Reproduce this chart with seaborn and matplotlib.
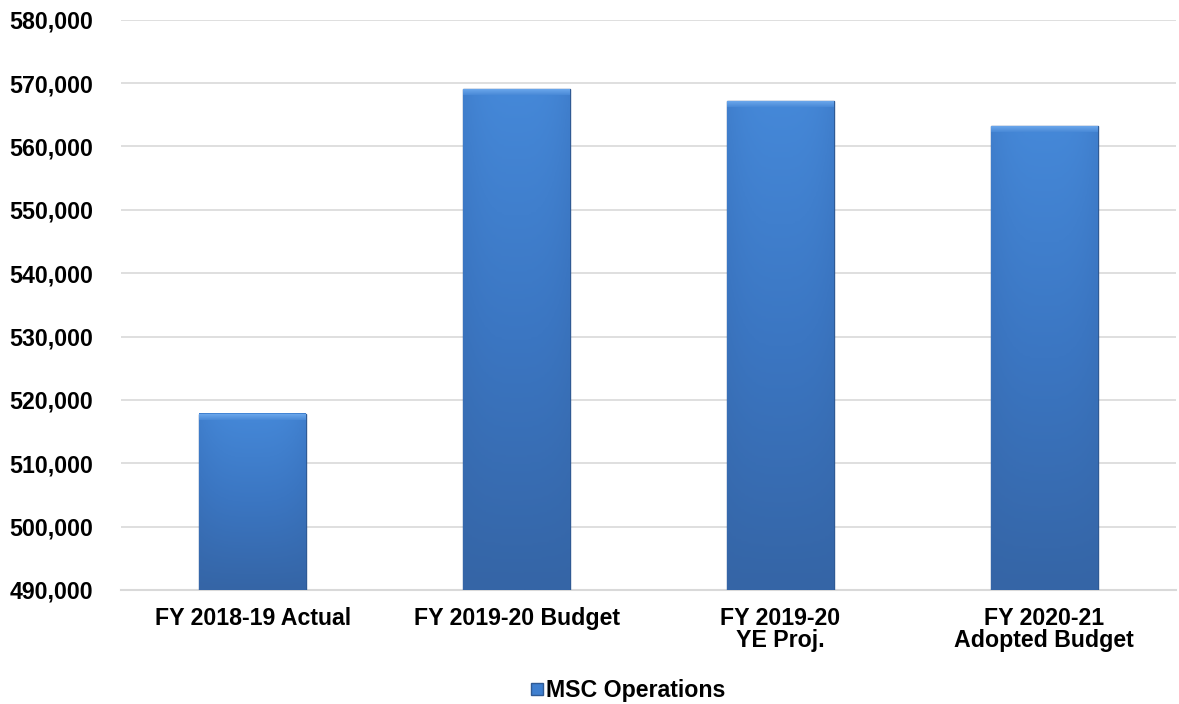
import numpy as np
import pandas as pd
import seaborn as sns
import matplotlib.pyplot as plt
from matplotlib.colors import LinearSegmentedColormap
from matplotlib.lines import Line2D
from matplotlib.ticker import FuncFormatter, MultipleLocator

categories = ["FY 2018-19 Actual", "FY 2019-20 Budget", "FY 2019-20\nYE Proj.",
              "FY 2020-21\nAdopted Budget"]
values = [517800, 569000, 567100, 563150]
series_name = "MSC Operations"

df = pd.DataFrame({"category": categories, "value": values})

sns.set_style("white")
plt.rcParams['font.family'] = ['Liberation Sans', 'DejaVu Sans']
plt.rcParams['font.weight'] = 'bold'

fig = plt.figure(figsize=(11.79, 7.04), dpi=100)
ax = fig.add_axes([0.1026, 0.162, 0.895, 0.81])

sns.barplot(data=df, x="category", y="value", color="#3f7fcf", width=0.405,
            ax=ax, zorder=3)

ymin, ymax = 490000, 580000
ax.set_ylim(ymin, ymax)
ax.yaxis.set_major_locator(MultipleLocator(10000))
ax.yaxis.set_major_formatter(FuncFormatter(lambda v, p: f"{v:,.0f}"))
ax.grid(axis="y", color="#d9d9d9", linewidth=1.2, zorder=0)
ax.set_axisbelow(True)
for s in ["top", "right", "left"]:
    ax.spines[s].set_visible(False)
ax.spines["bottom"].set_color("#d9d9d9")
ax.spines["bottom"].set_linewidth(1.5)
ax.tick_params(axis="both", length=0, labelsize=16.7, labelcolor="black")
ax.tick_params(axis="x", pad=12)
ax.tick_params(axis="y", pad=20)
ax.set_xlabel("")
ax.set_ylabel("")
for lab in ax.get_xticklabels() + ax.get_yticklabels():
    lab.set_fontweight("bold")
    lab.set_linespacing(0.95)

# gradient fill for the bars
cmap = LinearSegmentedColormap.from_list("bar", ["#3565a6", "#3b76c2", "#4588d8"])
vert = np.linspace(0, 1, 200).reshape(-1, 1)
horiz = 1 - 0.25 * np.abs(np.linspace(-1, 1, 60)) ** 3
grad = vert * horiz.reshape(1, -1)
for patch in ax.patches:
    x0 = patch.get_x()
    w, h = patch.get_width(), patch.get_height()
    patch.set_edgecolor("#2f5a94")
    patch.set_linewidth(1.0)
    ax.imshow(grad, cmap=cmap, vmin=0, vmax=1, origin="lower", aspect="auto",
              extent=[x0, x0 + w, ymin, h], zorder=3.5)
    # light bevel at the top
    ax.imshow(np.linspace(0, 1, 10).reshape(-1, 1),
              cmap=LinearSegmentedColormap.from_list("top", ["#4a8ad8", "#6aa6ea"]),
              origin="lower", aspect="auto",
              extent=[x0, x0 + w, h - 900, h], zorder=3.6)
ax.set_xlim(-0.5, 3.5)
ax.set_ylim(ymin, ymax)

handles = [Line2D([], [], marker="s", linestyle="none", markersize=9,
                  markerfacecolor="#3f7fcf", markeredgecolor="#2f5a94",
                  label=series_name)]
leg = ax.legend(handles=handles, loc="center", bbox_to_anchor=(0.48, -0.176),
                frameon=False, prop={"weight": "bold", "size": 16.7},
                handlelength=0.6, handletextpad=0.1, borderpad=0.1)
for t in leg.get_texts():
    t.set_color("black")

fig.savefig("out.png", dpi=100)
